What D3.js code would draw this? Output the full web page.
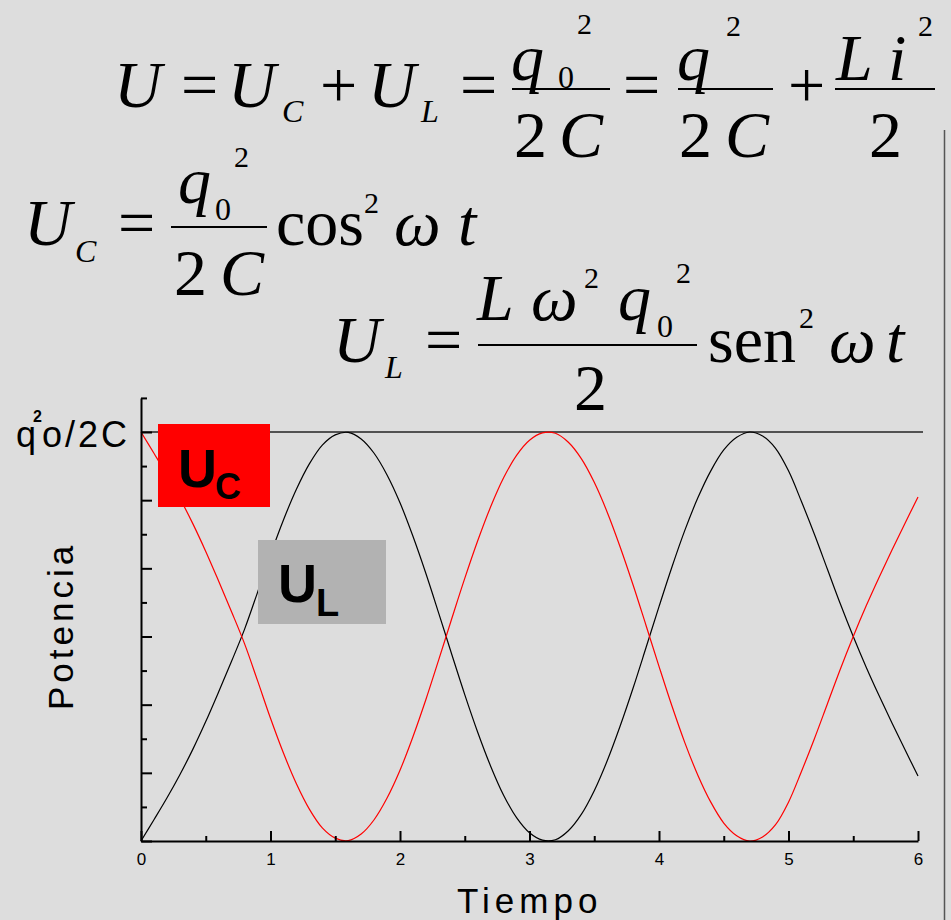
<!DOCTYPE html>
<html>
<head>
<meta charset="utf-8">
<script src="https://cdn.jsdelivr.net/npm/d3@7"></script>
<style>
  html, body { margin: 0; padding: 0; background: #dddddd; }
  svg { display: block; }
</style>
</head>
<body>
<svg id="chart" width="951" height="920"></svg>
<script>
// Time samples and the two energy curves (fraction of q0^2/2C)
const tiempo = [0.0,0.1,0.2,0.3,0.4,0.5,0.6,0.7,0.8,0.9,1.0,1.1,1.2,1.3,1.4,1.5,1.6,1.7,1.8,1.9,
                2.0,2.1,2.2,2.3,2.4,2.5,2.6,2.7,2.8,2.9,3.0,3.1,3.2,3.3,3.4,3.5,3.6,3.7,3.8,3.9,
                4.0,4.1,4.2,4.3,4.4,4.5,4.6,4.7,4.8,4.9,5.0,5.1,5.2,5.3,5.4,5.5,5.6,5.7,5.8,5.9,6.0];
const energiaC = [1.000,0.948,0.895,0.838,0.776,0.708,0.635,0.560,0.482,0.392,0.300,0.215,0.140,0.078,0.032,0.007,0.001,
                  0.017,0.052,0.105,0.173,0.255,0.346,0.444,0.544,0.642,0.734,0.817,0.888,0.943,0.980,0.998,0.997,
                  0.975,0.935,0.877,0.804,0.719,0.626,0.527,0.427,0.330,0.240,0.161,0.095,0.044,0.013,0.000,0.010,
                  0.040,0.095,0.170,0.250,0.335,0.420,0.500,0.575,0.645,0.712,0.777,0.841];
const energiaL = [0.000,0.052,0.105,0.162,0.224,0.292,0.365,0.440,0.518,0.608,0.700,0.785,0.860,0.922,0.968,0.993,0.999,
                  0.983,0.948,0.895,0.827,0.745,0.654,0.556,0.456,0.358,0.266,0.183,0.112,0.057,0.020,0.002,0.003,
                  0.025,0.065,0.123,0.196,0.281,0.374,0.473,0.573,0.670,0.760,0.839,0.905,0.956,0.987,1.000,0.990,
                  0.960,0.905,0.830,0.750,0.665,0.580,0.500,0.425,0.355,0.288,0.223,0.159];
const xTicks = [0, 1, 2, 3, 4, 5, 6];
const xMinorTicks = [0.5, 1.5, 2.5, 3.5, 4.5, 5.5];
const yMajorTicks = [0, 1/6, 2/6, 3/6, 4/6, 5/6, 1];
const yMinorTicks = [1/12, 3/12, 5/12, 7/12, 9/12, 11/12, 13/12];
const yMax = 13/12;
const nivelMax = 1;   // q0^2/2C

const svg = d3.select("#chart");
const SANS = "'Liberation Sans', Arial, Helvetica, sans-serif";
const SERIF = "'Liberation Serif', 'Times New Roman', Times, serif";

svg.append("rect").attr("width", 951).attr("height", 920).attr("fill", "#dddddd");

// ---------- formulas ----------
const eqG = svg.append("g").attr("fill", "#000").attr("font-family", SERIF);
function t(x, y, s, size, italic) {
  eqG.append("text").attr("x", x).attr("y", y).attr("font-size", size)
     .attr("font-style", italic ? "italic" : "normal").text(s);
}
function bar(x1, x2, y) {
  eqG.append("line").attr("x1", x1).attr("x2", x2).attr("y1", y).attr("y2", y)
     .attr("stroke", "#000").attr("stroke-width", 1.8);
}
const F = 66, S = 32, P = 30;

// U = U_C + U_L = q0^2/2C = q^2/2C + L i^2/2
t(114, 107, "U", F, true);
t(181, 107, "=", F, false);
t(228, 107, "U", F, true);
t(282, 122, "C", S, true);
t(320, 107, "+", F, false);
t(368, 107, "U", F, true);
t(421, 122, "L", S, true);
t(460, 107, "=", F, false);
t(511, 80, "q", F, true);
t(558, 88, "0", S, false);
t(577, 34, "2", P, false);
bar(512, 610, 89);
t(514, 157, "2", F, false);
t(559, 157, "C", F, true);
t(623, 107, "=", F, false);
t(677, 80, "q", F, true);
t(726, 36, "2", P, false);
bar(678, 773, 89);
t(679, 157, "2", F, false);
t(725, 157, "C", F, true);
t(788, 107, "+", F, false);
t(836, 80, "L", F, true);
t(888, 80, "i", F, true);
t(918, 36, "2", P, false);
bar(835, 935, 89);
t(869, 157, "2", F, false);

// U_C = q0^2/2C cos^2 wt
t(24, 245, "U", F, true);
t(75, 262, "C", S, true);
t(118, 245, "=", F, false);
t(178, 203, "q", F, true);
t(215, 220, "0", S, false);
t(234, 167, "2", P, false);
bar(171, 267, 227);
t(174, 295, "2", F, false);
t(220, 295, "C", F, true);
t(276, 245, "cos", F, false);
t(364, 213, "2", P, false);
t(394, 245, "\u03C9", F, true);
t(458, 245, "t", F, true);

// U_L = L w^2 q0^2/2 sen^2 wt
t(333, 362, "U", F, true);
t(385, 378, "L", S, true);
t(425, 362, "=", F, false);
t(477, 320, "L", F, true);
t(531, 320, "\u03C9", F, true);
t(584, 288, "2", P, false);
t(618, 320, "q", F, true);
t(657, 337, "0", S, false);
t(676, 283, "2", P, false);
bar(478, 697, 345);
t(574, 410, "2", F, false);
t(708, 362, "sen", F, false);
t(799, 328, "2", P, false);
t(829, 362, "\u03C9", F, true);
t(886, 362, "t", F, true);

// ---------- chart ----------
const x = d3.scaleLinear().domain([0, 6]).range([141, 918]);
const y = d3.scaleLinear().domain([0, yMax]).range([841, 841 - 409 * yMax]);

// level line at q0^2/2C
svg.append("line")
  .attr("x1", x(0)).attr("x2", x(6) + 5)
  .attr("y1", y(nivelMax)).attr("y2", y(nivelMax))
  .attr("stroke", "#222").attr("stroke-width", 1.5);

const line = d3.line().x((d, i) => x(tiempo[i])).y(d => y(d)).curve(d3.curveCatmullRom.alpha(0.5));

svg.append("path").datum(energiaL).attr("d", line)
  .attr("fill", "none").attr("stroke", "#000").attr("stroke-width", 1.2);
svg.append("path").datum(energiaC).attr("d", line)
  .attr("fill", "none").attr("stroke", "#ff0000").attr("stroke-width", 1.2);

// axes
function styleAxis(g) {
  g.selectAll("path.domain").attr("stroke", "#000").attr("stroke-width", 2);
  g.selectAll(".tick line").attr("stroke", "#000").attr("stroke-width", 2);
}
const xAxis = svg.append("g").attr("transform", `translate(0,${y(0)})`)
  .call(d3.axisBottom(x).tickValues(xTicks).tickSize(-10).tickSizeOuter(0).tickPadding(12).tickFormat(d3.format("d")));
styleAxis(xAxis);
xAxis.selectAll("text").attr("font-family", SANS).attr("font-size", 17).attr("fill", "#000");
const xMinor = svg.append("g").attr("transform", `translate(0,${y(0)})`)
  .call(d3.axisBottom(x).tickValues(xMinorTicks).tickSize(-5).tickFormat(""));
styleAxis(xMinor);
xMinor.select("path.domain").remove();

const yAxis = svg.append("g").attr("transform", `translate(${x(0)},0)`)
  .call(d3.axisLeft(y).tickValues(yMajorTicks).tickSize(-11).tickSizeOuter(0).tickFormat(""));
styleAxis(yAxis);
const yMinor = svg.append("g").attr("transform", `translate(${x(0)},0)`)
  .call(d3.axisLeft(y).tickValues(yMinorTicks).tickSize(-6).tickFormat(""));
styleAxis(yMinor);
yMinor.select("path.domain").remove();

// y tick label q0^2/2C, one text with the small 2 raised between q and o
const yl = svg.append("text").attr("x", 16).attr("y", y(nivelMax) + 15)
  .attr("font-family", SANS).attr("font-size", 36).attr("letter-spacing", 3).attr("fill", "#000");
yl.append("tspan").text("q");
yl.append("tspan").attr("font-size", 16).attr("font-weight", "bold").attr("letter-spacing", 0)
  .attr("dx", -6).attr("dy", -25).text("2");
yl.append("tspan").attr("dx", 0).attr("dy", 25).text("o/2C");

// axis titles
svg.append("text").attr("x", 457).attr("y", 913)
  .attr("font-family", SANS).attr("font-size", 35).attr("letter-spacing", 5).attr("fill", "#000").text("Tiempo");
svg.append("text").attr("transform", "translate(73,710) rotate(-90)")
  .attr("font-family", SANS).attr("font-size", 35).attr("letter-spacing", 4).attr("fill", "#000").text("Potencia");

// curve labels
svg.append("text").attr("x", 258).attr("y", 477)
  .attr("font-family", SANS).attr("font-size", 22).attr("fill", "#000").text("s");
svg.append("rect").attr("x", 158).attr("y", 424).attr("width", 112).attr("height", 83).attr("fill", "#ff0000");
svg.append("text").attr("x", 178).attr("y", 487)
  .attr("font-family", SANS).attr("font-weight", "bold").attr("font-size", 54).attr("fill", "#000").text("U");
svg.append("text").attr("x", 215).attr("y", 499)
  .attr("font-family", SANS).attr("font-weight", "bold").attr("font-size", 36).attr("fill", "#000").text("C");

svg.append("rect").attr("x", 258).attr("y", 540).attr("width", 128).attr("height", 84).attr("fill", "#b2b2b2");
svg.append("text").attr("x", 278).attr("y", 602)
  .attr("font-family", SANS).attr("font-weight", "bold").attr("font-size", 54).attr("fill", "#000").text("U");
svg.append("text").attr("x", 316).attr("y", 616)
  .attr("font-family", SANS).attr("font-weight", "bold").attr("font-size", 38).attr("fill", "#000").text("L");

// right frame edge
svg.append("line").attr("x1", 944.5).attr("x2", 944.5).attr("y1", 130).attr("y2", 920)
  .attr("stroke", "#555").attr("stroke-width", 1.5);
</script>
</body>
</html>
